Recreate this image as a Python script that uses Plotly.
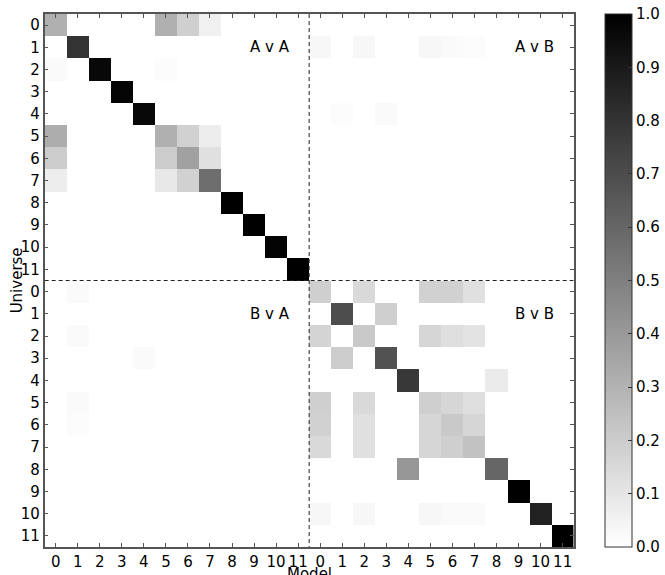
import plotly.graph_objects as go

labels = [str(i) for i in range(12)] * 2
n = 24

# sparse non-zero entries: (row, col, value); rows = Universe, cols = Model
# A v A
ava = [(0,0,0.31),(0,5,0.31),(0,6,0.19),(0,7,0.06),
       (1,1,0.80),(2,0,0.02),(2,2,0.97),(2,5,0.01),(3,3,0.98),(4,4,0.97),
       (5,0,0.32),(5,5,0.31),(5,6,0.18),(5,7,0.07),
       (6,0,0.20),(6,5,0.20),(6,6,0.37),(6,7,0.12),
       (7,0,0.07),(7,5,0.09),(7,6,0.18),(7,7,0.57),
       (8,8,1.0),(9,9,1.0),(10,10,0.99),(11,11,1.0)]
# A v B
avb = [(1,0,0.03),(1,2,0.03),(1,5,0.03),(1,6,0.02),(1,7,0.01),
       (4,1,0.01),(4,3,0.02)]
# B v A
bva = [(0,1,0.02),(2,1,0.02),(3,4,0.02),(5,1,0.02),(6,1,0.01)]
# B v B
bvb = [(0,0,0.19),(0,2,0.15),(0,5,0.18),(0,6,0.18),(0,7,0.12),
       (1,1,0.70),(1,3,0.19),
       (2,0,0.17),(2,2,0.21),(2,5,0.16),(2,6,0.13),(2,7,0.11),
       (3,1,0.20),(3,3,0.68),
       (4,4,0.78),(4,8,0.08),
       (5,0,0.19),(5,2,0.15),(5,5,0.19),(5,6,0.16),(5,7,0.13),
       (6,0,0.18),(6,2,0.12),(6,5,0.16),(6,6,0.21),(6,7,0.16),
       (7,0,0.15),(7,2,0.12),(7,5,0.16),(7,6,0.19),(7,7,0.24),
       (8,4,0.41),(8,8,0.60),
       (9,9,1.0),
       (10,0,0.03),(10,2,0.03),(10,5,0.03),(10,6,0.02),(10,7,0.02),(10,10,0.87),
       (11,11,1.0)]

z = [[0.0] * n for _ in range(n)]
for block, (ro, co) in [(ava, (0, 0)), (avb, (0, 12)), (bva, (12, 0)), (bvb, (12, 12))]:
    for r, c, v in block:
        z[r + ro][c + co] = v

W, H = 665, 575
L, R, T, B = 45, 578, 14, 547   # plot area in pixels

FONT = "DejaVu Sans"
fig = go.Figure(go.Heatmap(
    z=z, x=list(range(n)), y=list(range(n)),
    colorscale=[[0, "white"], [1, "black"]], zmin=0, zmax=1,
    colorbar=dict(
        x=610 / W, xanchor="left", xpad=0, ypad=0,
        y=(H - B) / H, yanchor="bottom", len=(B - T) / H, lenmode="fraction",
        thickness=27, outlinewidth=1, outlinecolor="#333",
        tickvals=[i / 10 for i in range(11)],
        ticktext=[f"{i/10:.1f}" for i in range(11)],
        ticks="inside", ticklen=4, tickcolor="#333",
        tickfont=dict(family=FONT, size=15, color="black"),
    ),
))

for v in [11.5]:
    fig.add_shape(type="line", x0=v, x1=v, y0=-0.5, y1=n - 0.5,
                  line=dict(color="#222", width=1, dash="4px,3px"))
    fig.add_shape(type="line", y0=v, y1=v, x0=-0.5, x1=n - 0.5,
                  line=dict(color="#222", width=1, dash="4px,3px"))

for txt, xx, yy in [("A v A", 10.7, 1.0), ("A v B", 22.7, 1.0),
                    ("B v A", 10.7, 13.0), ("B v B", 22.7, 13.0)]:
    fig.add_annotation(x=xx, y=yy, text=txt, showarrow=False, xanchor="right",
                       font=dict(family=FONT, size=15, color="black"))

# axis titles as paper annotations (paper == whole page, margins are 0)
fig.add_annotation(x=(L + R) / 2 / W, xref="paper", y=(H - 563) / H, yref="paper",
                   yanchor="top", text="Model", showarrow=False,
                   font=dict(family=FONT, size=15, color="black"))
fig.add_annotation(x=17 / W, xref="paper", y=(H - (T + B) / 2) / H, yref="paper",
                   xanchor="center", yanchor="middle", textangle=-90,
                   text="Universe", showarrow=False,
                   font=dict(family=FONT, size=15, color="black"))

axis_common = dict(
    tickmode="array", tickvals=list(range(n)), ticktext=labels,
    ticks="inside", ticklen=4, tickcolor="#555",
    showline=True, linecolor="#555", linewidth=1.5, mirror="allticks",
    showgrid=False, zeroline=False, automargin=False,
    tickfont=dict(family=FONT, size=15, color="black"),
    range=[-0.5, n - 0.5],
)

fig.update_layout(
    width=W, height=H,
    margin=dict(l=0, r=0, t=0, b=0),
    paper_bgcolor="white", plot_bgcolor="white",
    xaxis=dict(**axis_common, domain=[L / W, R / W]),
    yaxis=dict(**{**axis_common, "range": [n - 0.5, -0.5]},
               domain=[(H - B) / H, (H - T) / H]),
)

fig.write_html("out.html", config={"displayModeBar": False},
               post_script="document.body.style.margin='0';document.body.style.overflow='hidden';")
